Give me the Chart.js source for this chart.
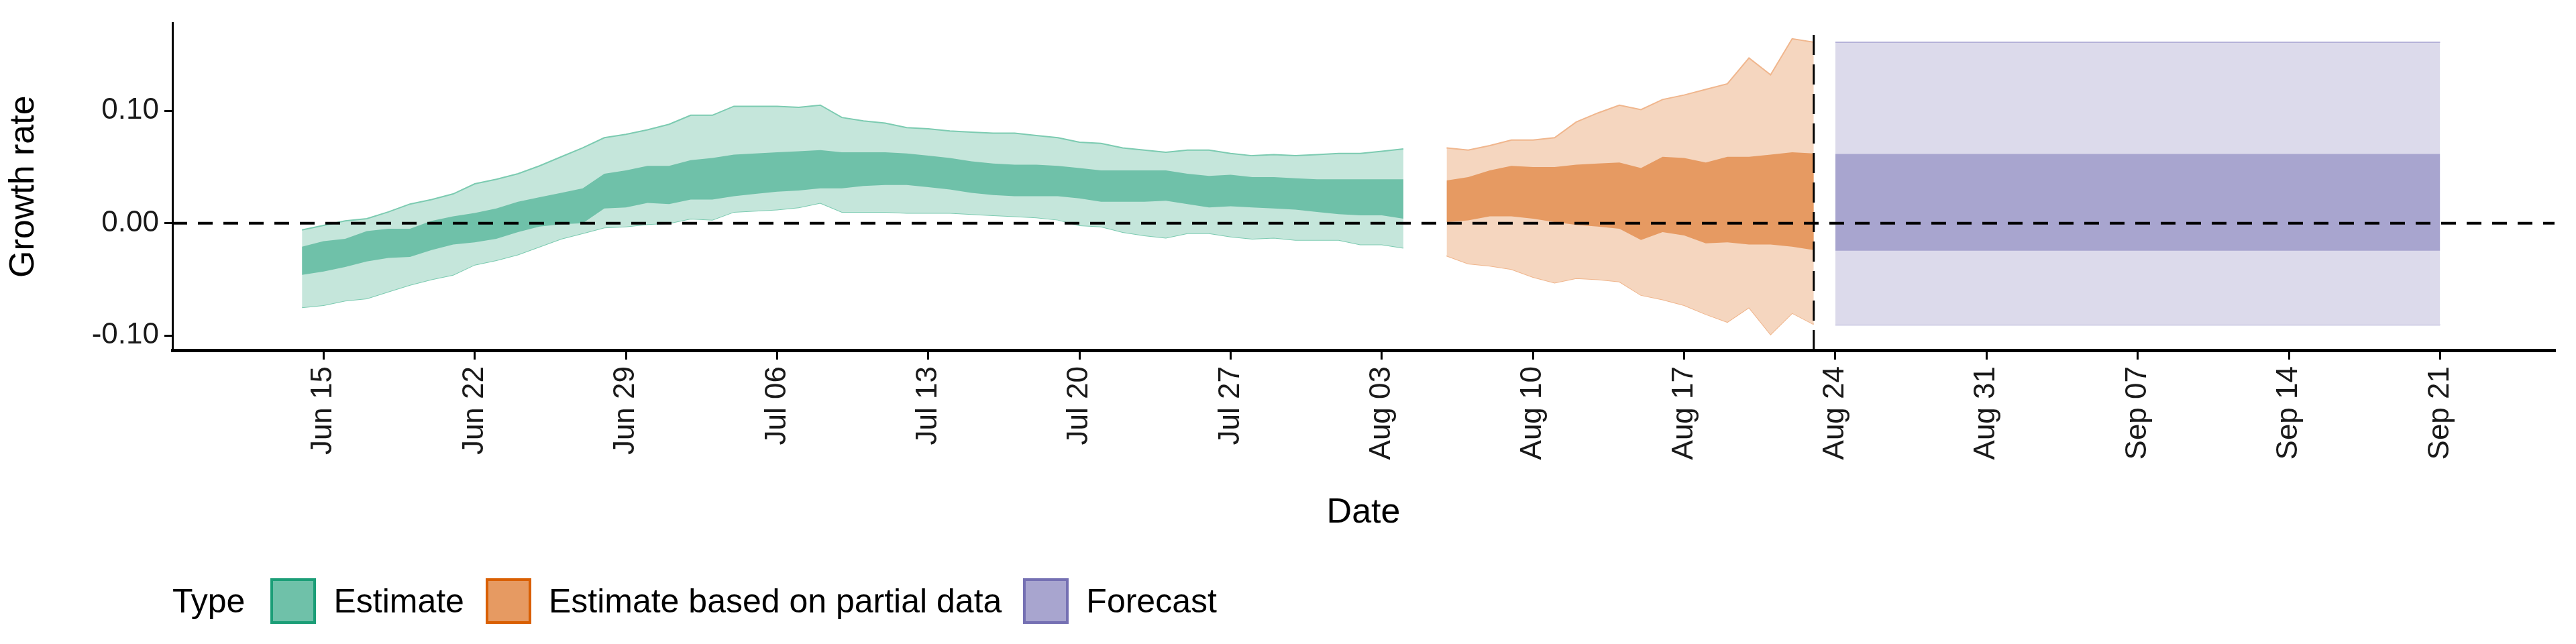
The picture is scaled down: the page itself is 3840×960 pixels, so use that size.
<!DOCTYPE html>
<html>
<head>
<meta charset="utf-8">
<script src="https://cdn.jsdelivr.net/npm/chart.js@4/dist/chart.umd.min.js"></script>
<style>
  body { margin: 0; background: #fff; font-family: "Liberation Sans", Arial, sans-serif; }
  #wrap { position: relative; width: 3840px; height: 800px; }
  #legend { position: absolute; left: 257px; top: 862px; display: flex; align-items: center; font-size: 50px; color: #000; }
  #legend .box { width: 68px; height: 68px; box-sizing: border-box; border: 4px solid; margin: 0 26px 0 0; }
  #legend .item { display: flex; align-items: center; margin-right: 32px; }
</style>
</head>
<body>
<div id="wrap"><canvas id="chart"></canvas></div>
<div id="legend"></div>
<script>
"use strict";

/* Data: day 0 = Jun 15 */
const TICK_DAYS = [0, 7, 14, 21, 28, 35, 42, 49, 56, 63, 70, 77, 84, 91, 98];
const TICK_LABELS = ["Jun 15", "Jun 22", "Jun 29", "Jul 06", "Jul 13", "Jul 20", "Jul 27",
  "Aug 03", "Aug 10", "Aug 17", "Aug 24", "Aug 31", "Sep 07", "Sep 14", "Sep 21"];

const EST_START = -1;
const EST_OUTER_HI = [-0.006, -0.002, 0.002, 0.004, 0.010, 0.017, 0.021, 0.026, 0.035, 0.039, 0.044, 0.051, 0.059,
  0.067, 0.076, 0.079, 0.083, 0.088, 0.096, 0.096, 0.104, 0.104, 0.104, 0.103, 0.105, 0.094, 0.091, 0.089, 0.085,
  0.084, 0.082, 0.081, 0.080, 0.080, 0.078, 0.076, 0.072, 0.071, 0.067, 0.065, 0.063, 0.065, 0.065, 0.062, 0.060,
  0.061, 0.060, 0.061, 0.062, 0.062, 0.064, 0.066];
const EST_INNER_HI = [-0.021, -0.016, -0.014, -0.007, -0.005, -0.005, 0.002, 0.006, 0.009, 0.013, 0.019, 0.023, 0.027,
  0.031, 0.044, 0.047, 0.051, 0.051, 0.056, 0.058, 0.061, 0.062, 0.063, 0.064, 0.065, 0.063, 0.063, 0.063, 0.062,
  0.060, 0.058, 0.055, 0.053, 0.052, 0.052, 0.051, 0.049, 0.047, 0.047, 0.047, 0.047, 0.044, 0.042, 0.043, 0.041,
  0.041, 0.040, 0.039, 0.039, 0.039, 0.039, 0.039];
const EST_INNER_LO = [-0.046, -0.043, -0.039, -0.034, -0.031, -0.030, -0.024, -0.019, -0.017, -0.014, -0.008, -0.003,
  -0.001, 0.000, 0.013, 0.014, 0.018, 0.017, 0.021, 0.021, 0.024, 0.026, 0.028, 0.029, 0.031, 0.031, 0.033, 0.034,
  0.034, 0.032, 0.030, 0.027, 0.025, 0.024, 0.024, 0.024, 0.022, 0.019, 0.019, 0.019, 0.020, 0.017, 0.014, 0.015,
  0.014, 0.013, 0.012, 0.010, 0.008, 0.007, 0.007, 0.004];
const EST_OUTER_LO = [-0.075, -0.073, -0.069, -0.067, -0.061, -0.055, -0.050, -0.046, -0.037, -0.033, -0.028, -0.021,
  -0.014, -0.009, -0.004, -0.003, -0.001, 0.000, 0.004, 0.003, 0.010, 0.011, 0.012, 0.014, 0.018, 0.010, 0.010,
  0.010, 0.009, 0.009, 0.009, 0.008, 0.007, 0.006, 0.005, 0.003, -0.002, -0.003, -0.008, -0.011, -0.013, -0.009,
  -0.009, -0.012, -0.014, -0.013, -0.015, -0.015, -0.015, -0.019, -0.019, -0.022];

const PART_START = 52;
const PART_OUTER_HI = [0.067, 0.065, 0.069, 0.074, 0.074, 0.076, 0.090, 0.098, 0.105, 0.101, 0.110, 0.114, 0.119,
  0.124, 0.147, 0.132, 0.164, 0.161];
const PART_INNER_HI = [0.038, 0.041, 0.047, 0.051, 0.050, 0.050, 0.052, 0.053, 0.054, 0.049, 0.059, 0.058, 0.054,
  0.059, 0.059, 0.061, 0.063, 0.062];
const PART_INNER_LO = [0.001, 0.0025, 0.006, 0.006, 0.004, 0.001, -0.0015, -0.003, -0.005, -0.015, -0.008, -0.011,
  -0.018, -0.017, -0.019, -0.019, -0.021, -0.024];
const PART_OUTER_LO = [-0.029, -0.036, -0.038, -0.041, -0.048, -0.053, -0.049, -0.050, -0.052, -0.064, -0.068,
  -0.073, -0.081, -0.088, -0.075, -0.099, -0.080, -0.090];

const FC_DAYS = [70, 98];
const FC_OUTER = [-0.0904, 0.161];
const FC_INNER = [-0.0245, 0.0615];

const CUTOFF_DAY = 69;
const X_MIN = -7, X_MAX = 103.3, Y_MIN = -0.113, Y_MAX = 0.178;

const TYPES = [
  { name: "Estimate", light: "#c5e6db", dark: "#6fc1a9", edge: "#7ccbb1", stroke: "#1b9e77" },
  { name: "Estimate based on partial data", light: "#f5d6bf", dark: "#e69a62", edge: "#f0b68d", stroke: "#d95f02" },
  { name: "Forecast", light: "#dcdaeb", dark: "#a8a5cf", edge: "#b5b2d8", stroke: "#7570b3" },
];

/* Helpers */
function toPoints(start, values) {
  return values.map((y, i) => ({ x: start + i, y }));
}

function band(hi, lo, fillColor, edgeColor) {
  return [
    { data: hi, fill: "+1", backgroundColor: fillColor, borderColor: edgeColor || "transparent",
      borderWidth: edgeColor ? 2 : 0, pointRadius: 0, tension: 0 },
    { data: lo, fill: false, borderColor: edgeColor || "transparent", borderWidth: edgeColor ? 2 : 0,
      pointRadius: 0, tension: 0 },
  ];
}

const fcFlat = (v) => FC_DAYS.map((x) => ({ x, y: v }));

// Chart.js paints lower indexes on top: reference lines first, then dark bands, then light bands
const datasets = [
  { data: [{ x: X_MIN, y: 0 }, { x: X_MAX, y: 0 }], borderColor: "#000", borderWidth: 4,
    borderDash: [22, 16], pointRadius: 0, fill: false },
  { data: [{ x: CUTOFF_DAY, y: Y_MIN }, { x: CUTOFF_DAY, y: Y_MAX - 0.007 }], borderColor: "#000", borderWidth: 3,
    borderDash: [30, 14], pointRadius: 0, fill: false },
  ...band(toPoints(EST_START, EST_INNER_HI), toPoints(EST_START, EST_INNER_LO), TYPES[0].dark, null),
  ...band(toPoints(PART_START, PART_INNER_HI), toPoints(PART_START, PART_INNER_LO), TYPES[1].dark, null),
  ...band(fcFlat(FC_INNER[1]), fcFlat(FC_INNER[0]), TYPES[2].dark, null),
  ...band(toPoints(EST_START, EST_OUTER_HI), toPoints(EST_START, EST_OUTER_LO), TYPES[0].light, TYPES[0].edge),
  ...band(toPoints(PART_START, PART_OUTER_HI), toPoints(PART_START, PART_OUTER_LO), TYPES[1].light, TYPES[1].edge),
  ...band(fcFlat(FC_OUTER[1]), fcFlat(FC_OUTER[0]), TYPES[2].light, TYPES[2].edge),
];

/* Chart */
new Chart(document.getElementById("chart"), {
  type: "line",
  data: { datasets },
  options: {
    responsive: true,
    maintainAspectRatio: false,
    animation: false,
    layout: { padding: { top: 29, right: 32, left: 0, bottom: 0 } },
    plugins: { legend: { display: false }, tooltip: { enabled: false } },
    scales: {
      x: {
        type: "linear",
        min: X_MIN,
        max: X_MAX,
        afterBuildTicks: (s) => { s.ticks = TICK_DAYS.map((value) => ({ value })); },
        afterFit: (s) => { s.height = 278; },
        ticks: {
          autoSkip: false, maxRotation: 90, minRotation: 90, color: "#1a1a1a", padding: 10,
          font: { size: 44, family: "Liberation Sans" },
          callback: (v) => TICK_LABELS[TICK_DAYS.indexOf(v)],
        },
        grid: { drawOnChartArea: false, drawTicks: true, tickLength: 14, color: "#000", lineWidth: 3 },
        border: { display: true, color: "#000", width: 5 },
        title: { display: true, text: "Date", color: "#000", font: { size: 52, family: "Liberation Sans" }, padding: { top: 0 } },
      },
      y: {
        min: Y_MIN,
        max: Y_MAX,
        afterBuildTicks: (s) => { s.ticks = [-0.1, 0, 0.1].map((value) => ({ value })); },
        afterFit: (s) => { s.width = 257; },
        ticks: {
          color: "#1a1a1a", padding: 8, font: { size: 44, family: "Liberation Sans" },
          callback: (v) => v.toFixed(2),
        },
        grid: { drawOnChartArea: false, drawTicks: true, tickLength: 12, color: "#000", lineWidth: 3 },
        border: { display: true, color: "#000", width: 3 },
        title: { display: true, text: "Growth rate", color: "#000", font: { size: 52, family: "Liberation Sans" }, padding: { bottom: 4 } },
      },
    },
  },
});

/* Legend */
const legend = document.getElementById("legend");
legend.innerHTML = '<span style="margin-right:38px">Type</span>' + TYPES.map((t) =>
  `<span class="item"><span class="box" style="background:${t.dark};border-color:${t.stroke}"></span>${t.name}</span>`
).join("");
</script>
</body>
</html>
